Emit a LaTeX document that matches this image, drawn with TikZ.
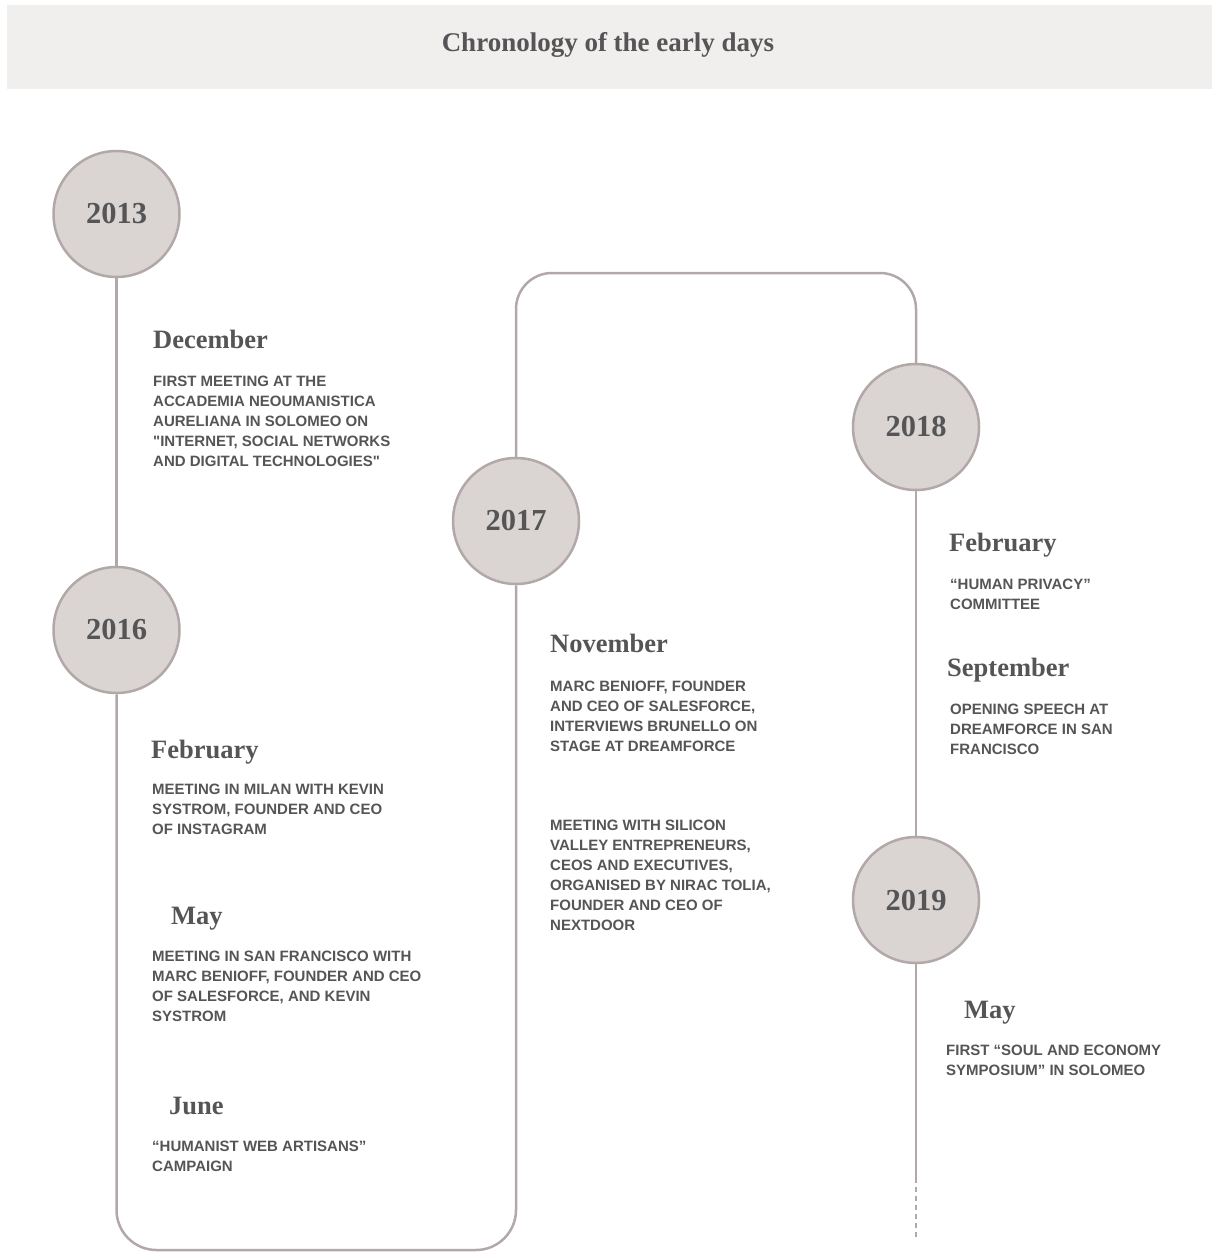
\documentclass[tikz,border=0pt]{standalone}
\usepackage{fontspec}
\setmainfont{Liberation Serif}
% plain family without TeX ligatures, so a typed " stays a straight quote
\newfontfamily\bodyfont{Liberation Sans}
\definecolor{band}{HTML}{F0EFED}
\definecolor{disc}{HTML}{DAD5D3}
\definecolor{rim}{HTML}{B2A8A7}
\definecolor{ink}{HTML}{555557}
\begin{document}
\begin{tikzpicture}[x=1pt,y=-1pt,
  yearnode/.style={circle,draw=rim,fill=disc,line width=2.5pt,minimum size=126pt,inner sep=0pt,
    text=ink,font=\fontsize{30.5}{32}\selectfont\bfseries},
  track/.style={draw=rim,line width=2.5pt},
  monthnode/.style={anchor=base west,inner sep=0pt,text=ink,font=\fontsize{26.5}{28}\selectfont\bfseries},
  bodynode/.style={anchor=north west,inner sep=0pt,align=left,text=ink,
    font=\bodyfont\bfseries\fontsize{15}{20}\selectfont},
]
\useasboundingbox (0,0) rectangle (1212,1252);

% title band
\fill[band] (7,5) rectangle (1212,89);
\node[text=ink,font=\fontsize{27}{30}\selectfont\bfseries] (title) at (608,45) {Chronology of the early days};

% year discs
\node[yearnode] (y13) at (116.5,214) {2013};
\node[yearnode] (y16) at (116.5,630) {2016};
\node[yearnode] (y17) at (516,521) {2017};
\node[yearnode] (y18) at (916,427) {2018};
\node[yearnode] (y19) at (916,900) {2019};

% helper points for the track
\coordinate (lowrun) at (0,1250);
\coordinate (highrun) at (0,273);
\coordinate (solidend) at (916,1178);
\coordinate (trackend) at (916,1240);

% track between the discs
\draw[track] (y13.south) -- (y16.north);
\draw[track,rounded corners=40pt] (y16.south) -- (y16.south |- lowrun) -- (y17.south |- lowrun) -- (y17.south);
\draw[track,rounded corners=36pt] (y17.north) -- (y17.north |- highrun) -- (y18.north |- highrun) -- (y18.north);
\draw[track] (y18.south) -- (y19.north);
\draw[track] (y19.south) -- (solidend);
\draw[track,dash pattern=on 5pt off 4pt] (solidend) -- (trackend);

% 2013
\node[monthnode] (m13dec) at (153,348) {December};
\node[bodynode] (t13dec) at (153,376) {FIRST MEETING AT THE\\ACCADEMIA NEOUMANISTICA\\AURELIANA IN SOLOMEO ON\\"INTERNET, SOCIAL NETWORKS\\AND DIGITAL TECHNOLOGIES"};

% 2016
\node[monthnode] (m16feb) at (151,758) {February};
\node[bodynode] (t16feb) at (152,784) {MEETING IN MILAN WITH KEVIN\\SYSTROM, FOUNDER AND CEO\\OF INSTAGRAM};
\node[monthnode] (m16may) at (171,924) {May};
\node[bodynode] (t16may) at (152,951) {MEETING IN SAN FRANCISCO WITH\\MARC BENIOFF, FOUNDER AND CEO\\OF SALESFORCE, AND KEVIN\\SYSTROM};
\node[monthnode] (m16jun) at (169,1114) {June};
\node[bodynode] (t16jun) at (152,1141) {“HUMANIST WEB ARTISANS”\\CAMPAIGN};

% 2017
\node[monthnode] (m17nov) at (550,652) {November};
\node[bodynode] (t17nov) at (550,681) {MARC BENIOFF, FOUNDER\\AND CEO OF SALESFORCE,\\INTERVIEWS BRUNELLO ON\\STAGE AT DREAMFORCE};
\node[bodynode] (t17sv) at (550,820) {MEETING WITH SILICON\\VALLEY ENTREPRENEURS,\\CEOS AND EXECUTIVES,\\ORGANISED BY NIRAC TOLIA,\\FOUNDER AND CEO OF\\NEXTDOOR};

% 2018
\node[monthnode] (m18feb) at (949,551) {February};
\node[bodynode] (t18feb) at (950,579) {“HUMAN PRIVACY”\\COMMITTEE};
\node[monthnode] (m18sep) at (947,676) {September};
\node[bodynode] (t18sep) at (950,704) {OPENING SPEECH AT\\DREAMFORCE IN SAN\\FRANCISCO};

% 2019
\node[monthnode] (m19may) at (964,1018) {May};
\node[bodynode] (t19may) at (946,1045) {FIRST “SOUL AND ECONOMY\\SYMPOSIUM” IN SOLOMEO};
\end{tikzpicture}
\end{document}
